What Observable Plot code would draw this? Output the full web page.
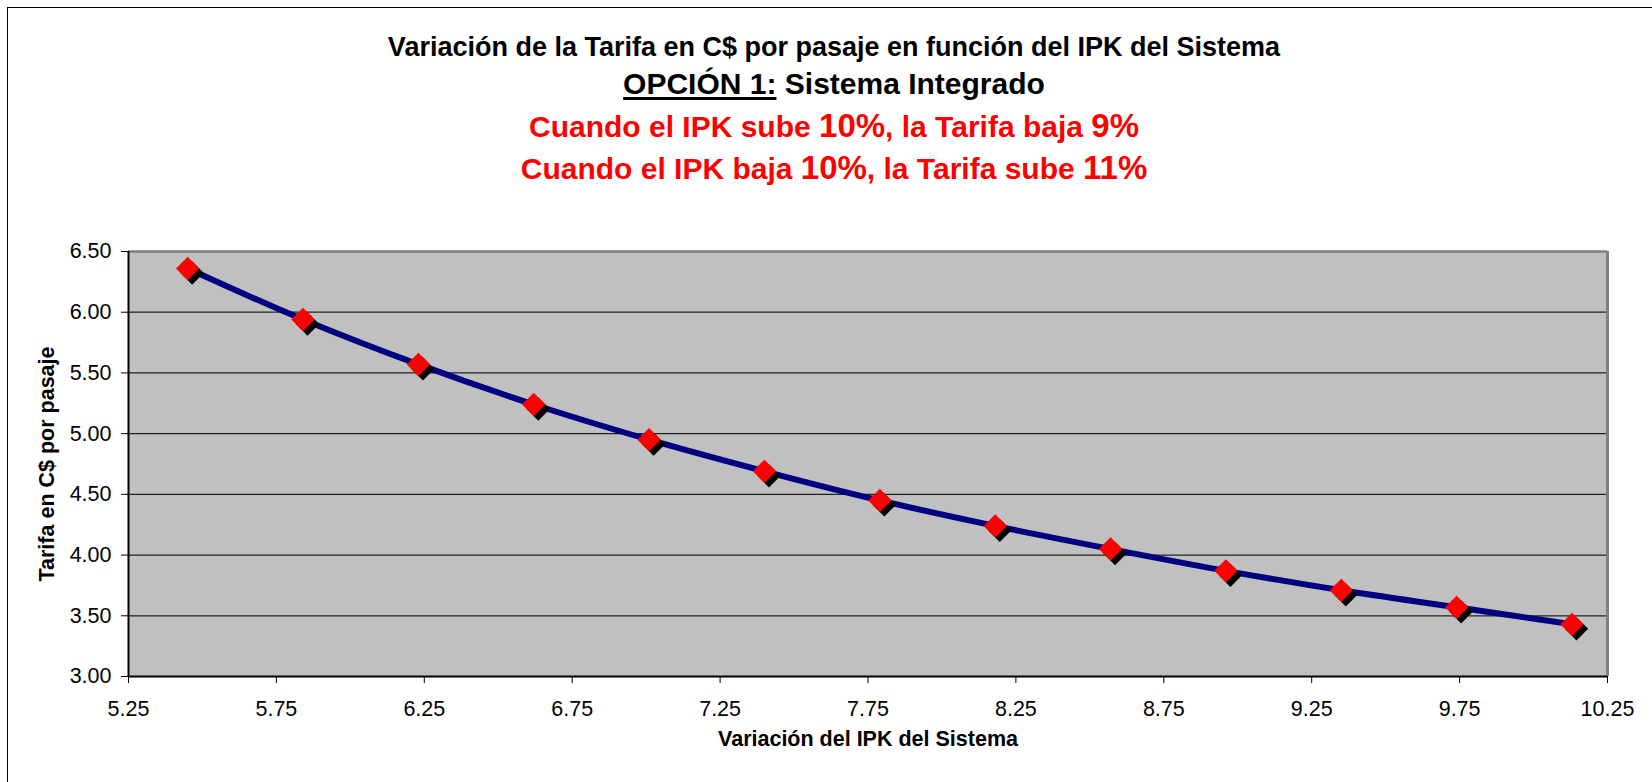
<!DOCTYPE html>
<html><head><meta charset="utf-8">
<script src="https://cdn.jsdelivr.net/npm/d3@7"></script>
<script src="https://cdn.jsdelivr.net/npm/@observablehq/plot@0.6"></script>
<style>
body{margin:0;background:#fff;font-family:Arial,"Liberation Sans",sans-serif;}
#wrap{position:relative;width:1652px;height:782px;overflow:hidden;background:#fff;}
#frame{position:absolute;left:7px;top:7px;width:1720px;height:820px;border:1px solid #000;box-sizing:border-box;}
.t{position:absolute;left:7px;width:1654px;text-align:center;font-weight:bold;white-space:nowrap;}
.r{color:#ff0000;}
.big{font-size:33px;}
#chart{position:absolute;left:0;top:200px;}
</style></head><body>
<div id="wrap"><div id="frame"></div>
<div class="t" id="t1" style="top:31px;font-size:27px;line-height:32px;">Variación de la Tarifa en C$ por pasaje en función del IPK del Sistema</div>
<div class="t" id="t2" style="top:66px;font-size:30px;line-height:36px;"><span style="text-decoration:underline;text-decoration-thickness:3px;text-underline-offset:3px;">OPCIÓN 1:</span> Sistema Integrado</div>
<div class="t r" id="t3" style="top:106px;font-size:30px;line-height:40px;">Cuando el IPK sube <span class="big">10%</span>, la Tarifa baja <span class="big">9%</span></div>
<div class="t r" id="t4" style="top:148px;font-size:30px;line-height:40px;">Cuando el IPK baja <span class="big">10%</span>, la Tarifa sube <span class="big">11%</span></div>
<div id="chart"></div></div>
<script>
const ipk = [5.45, 5.84, 6.23, 6.62, 7.01, 7.40, 7.79, 8.18, 8.57, 8.96, 9.35, 9.74, 10.13];
const tarifa = [6.36, 5.94, 5.57, 5.24, 4.95, 4.69, 4.45, 4.24, 4.05, 3.87, 3.71, 3.57, 3.43];
const xTicks = [5.25, 5.75, 6.25, 6.75, 7.25, 7.75, 8.25, 8.75, 9.25, 9.75, 10.25];
const yTicks = [3.00, 3.50, 4.00, 4.50, 5.00, 5.50, 6.00, 6.50];
const xLabel = "Variación del IPK del Sistema";
const yLabel = "Tarifa en C$ por pasaje";

const data = ipk.map((x, i) => ({x, y: tarifa[i]}));
const fmt = d => d.toFixed(2);

const chart = Plot.plot({
  width: 1652, height: 582,
  marginLeft: 128, marginRight: 45, marginTop: 51, marginBottom: 106,
  x: {domain: [xTicks[0], xTicks[xTicks.length - 1]]},
  y: {domain: [yTicks[0], yTicks[yTicks.length - 1]]},
  style: {fontFamily: "Arial, 'Liberation Sans', sans-serif", color: "#000", background: "transparent"},
  marks: [
    Plot.frame({fill: "#c0c0c0", stroke: null}),
    Plot.ruleY(yTicks.slice(1, -1), {stroke: "#222", strokeWidth: 1.2}),
    Plot.ruleY([yTicks[yTicks.length - 1]], {stroke: "#808080", strokeWidth: 2.5}),
    Plot.ruleX([xTicks[xTicks.length - 1]], {stroke: "#808080", strokeWidth: 3}),
    Plot.ruleX([xTicks[0]], {stroke: "#000", strokeWidth: 2}),
    Plot.ruleY([yTicks[0]], {stroke: "#000", strokeWidth: 2}),
    Plot.axisX({ticks: xTicks, tickFormat: fmt, fontSize: 21.5, tickSize: 7, tickPadding: 17, label: null}),
    Plot.axisY({ticks: yTicks, tickFormat: fmt, fontSize: 21.5, tickSize: 7, tickPadding: 10, label: null}),
    Plot.line(data, {x: "x", y: "y", curve: "catmull-rom", stroke: "#000080", strokeWidth: 6}),
    Plot.dot(data, {x: "x", y: "y", symbol: "square", r: 9.3, rotate: 45, fill: "#000", stroke: null, dx: 4.5, dy: 4.5}),
    Plot.dot(data, {x: "x", y: "y", symbol: "square", r: 9.3, rotate: 45, fill: "#ff0000", stroke: null}),
    Plot.text([yLabel], {text: d => d, frameAnchor: "left", textAnchor: "middle", dx: -81, rotate: -90, fontWeight: "bold", fontSize: 21.5}),
    Plot.text([xLabel], {text: d => d, frameAnchor: "bottom", dy: 69, fontWeight: "bold", fontSize: 21.5})
  ]
});
document.getElementById("chart").appendChild(chart);
</script>
</body></html>
